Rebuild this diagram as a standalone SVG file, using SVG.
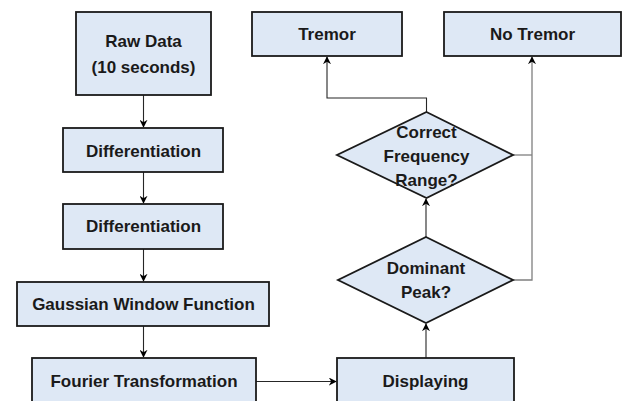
<svg xmlns="http://www.w3.org/2000/svg" width="625" height="401" viewBox="0 0 625 401">
<style>
.box{fill:#dee8f5;stroke:#1a1a1a;stroke-width:1.8}
.t{font-family:"Liberation Sans",Arial,sans-serif;font-weight:bold;font-size:17px;fill:#1a1a1a;text-anchor:middle}
.c{fill:none;stroke:#262626;stroke-width:1.1}
.g{fill:none;stroke:#7f7f7f;stroke-width:1.3}
</style>
<defs>
<marker id="ah" viewBox="0 0 10 10" refX="9" refY="5" markerWidth="8" markerHeight="8" markerUnits="userSpaceOnUse" orient="auto">
<path d="M0,0 L10,5 L0,10 L3,5 z" fill="#000"/>
</marker>
</defs>
<rect width="625" height="401" fill="#fff"/>
<g id="connectors">
<line class="c" x1="143.5" y1="95" x2="143.5" y2="127" marker-end="url(#ah)"/>
<line class="c" x1="143.5" y1="172" x2="143.5" y2="203" marker-end="url(#ah)"/>
<line class="c" x1="143.5" y1="249" x2="143.5" y2="281" marker-end="url(#ah)"/>
<line class="c" x1="143.5" y1="326" x2="143.5" y2="357" marker-end="url(#ah)"/>
<line class="c" x1="256" y1="381.5" x2="336" y2="381.5" marker-end="url(#ah)"/>
<line class="c" x1="426" y1="358" x2="426" y2="324" marker-end="url(#ah)"/>
<line class="c" x1="426" y1="237" x2="426" y2="199" marker-end="url(#ah)"/>
<polyline class="c" points="426.5,112 426.5,98 327,98 327,57" marker-end="url(#ah)"/>
<polyline class="g" points="513,155 532,155"/>
<polyline class="g" points="513,280 532,280 532,57" marker-end="url(#ah)"/>
</g>
<g id="raw"><rect class="box" x="76" y="12" width="135" height="83"/><text class="t" x="143.5" y="47">Raw Data</text><text class="t" x="143.5" y="73">(10 seconds)</text></g>
<g id="diff1"><rect class="box" x="63" y="128" width="160" height="44"/><text class="t" x="143.5" y="157">Differentiation</text></g>
<g id="diff2"><rect class="box" x="63" y="204" width="160" height="45"/><text class="t" x="143.5" y="232">Differentiation</text></g>
<g id="gauss"><rect class="box" x="17" y="282" width="252" height="44"/><text class="t" x="143.5" y="310">Gaussian Window Function</text></g>
<g id="fourier"><rect class="box" x="32" y="358" width="224" height="60"/><text class="t" x="144" y="387">Fourier Transformation</text></g>
<g id="display"><rect class="box" x="337" y="358" width="177" height="60"/><text class="t" x="425.5" y="387">Displaying</text></g>
<g id="dominant"><polygon class="box" points="426,237 513,280 426,323 338,280"/><text class="t" x="426" y="274">Dominant</text><text class="t" x="426" y="298">Peak?</text></g>
<g id="correct"><polygon class="box" points="426.5,112 513,155 426.5,198 337,155"/><text class="t" x="426.5" y="138">Correct</text><text class="t" x="426.5" y="162">Frequency</text><text class="t" x="426.5" y="186">Range?</text></g>
<g id="tremor"><rect class="box" x="252" y="12" width="150" height="44"/><text class="t" x="327" y="40">Tremor</text></g>
<g id="notremor"><rect class="box" x="444" y="12" width="177" height="44"/><text class="t" x="532.5" y="40">No Tremor</text></g>
</svg>
